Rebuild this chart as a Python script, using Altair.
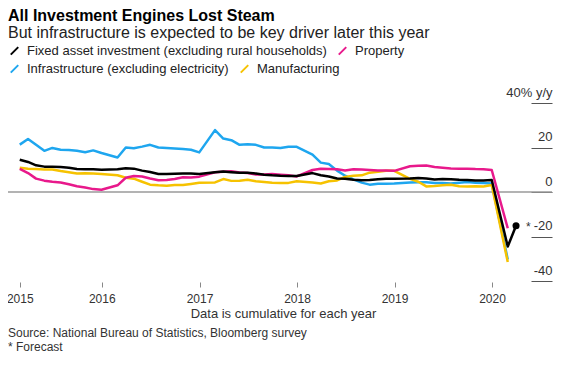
import altair as alt
import pandas as pd

FONT = "Liberation Sans"

TITLE = "All Investment Engines Lost Steam"
SUBTITLE = "But infrastructure is expected to be key driver later this year"
SOURCE = "Source: National Bureau of Statistics, Bloomberg survey"
NOTE = "* Forecast"
XTITLE = "Data is cumulative for each year"

FAI = "Fixed asset investment (excluding rural households)"
PROP = "Property"
INFRA = "Infrastructure (excluding electricity)"
MANU = "Manufacturing"

C_FAI = "#000000"
C_PROP = "#e8198b"
C_INFRA = "#1ea6ef"
C_MANU = "#f6c200"

# Year-to-date readings (Jan-Feb combined, so no January point)
months = [f"{y}-{m:02d}" for y in range(2015, 2020) for m in range(2, 13)] + ["2020-02"]

fai = [14.5, 13.5, 12.0, 11.4, 11.4, 11.2, 10.9, 10.3, 10.2, 10.2, 10.0,
       10.2, 10.7, 10.5, 9.6, 9.0, 8.1, 8.1, 8.2, 8.3, 8.3, 8.1,
       8.9, 9.2, 8.9, 8.6, 8.6, 8.3, 7.8, 7.5, 7.3, 7.2, 7.2,
       8.5, 7.5, 7.0, 6.1, 6.0, 5.5, 5.3, 5.4, 5.7, 5.9, 5.9,
       6.1, 6.3, 6.1, 5.6, 5.8, 5.7, 5.5, 5.4, 5.2, 5.2, 5.4,
       -24.5]
fc_months = ["2020-03"]
fai_forecast = [-15.2]

prop = [10.4, 8.5, 6.0, 5.1, 4.6, 4.3, 3.5, 2.6, 2.0, 1.3, 1.0,
        3.0, 6.4, 7.2, 7.0, 6.1, 5.3, 5.4, 5.8, 6.6, 6.5, 6.9,
        8.9, 9.1, 9.3, 8.8, 8.5, 7.9, 7.9, 8.1, 7.8, 7.5, 7.0,
        9.9, 10.4, 10.3, 10.2, 9.7, 10.2, 10.1, 9.9, 9.7, 9.7, 9.5,
        11.6, 11.8, 11.9, 11.2, 10.9, 10.6, 10.5, 10.5, 10.3, 10.2, 9.9,
        -16.3]

infra = [21.3, 23.8, 21.2, 18.5, 19.8, 19.0, 18.9, 18.5, 17.9, 18.7, 17.5,
         15.5, 20.0, 19.7, 20.4, 21.2, 20.0, 19.8, 19.6, 19.3, 19.0, 17.8,
         27.8, 24.0, 23.3, 21.2, 21.5, 21.2, 20.0, 20.0, 19.8, 20.3, 20.3,
         16.8, 13.2, 12.6, 9.6, 7.3, 5.7, 4.2, 3.3, 3.7, 3.7, 3.8,
         4.3, 4.4, 4.4, 4.0, 4.1, 3.8, 4.2, 4.5, 4.2, 4.0, 3.8,
         -30.3]

manu = [10.9, 10.4, 10.3, 10.1, 10.1, 9.4, 8.9, 8.3, 8.4, 8.3, 8.1,
        7.5, 6.4, 6.0, 4.6, 3.3, 3.0, 2.8, 3.1, 3.1, 3.6, 4.2,
        4.3, 5.8, 5.0, 5.1, 5.5, 4.8, 4.5, 4.2, 4.1, 4.1, 4.8,
        4.3, 3.8, 4.8, 5.2, 6.8, 7.3, 7.5, 8.7, 9.1, 9.5, 9.5,
        5.9, 4.6, 2.5, 2.7, 3.0, 3.3, 2.6, 2.5, 2.6, 2.5, 3.1,
        -31.5]

y_ticks = [-40, -20, 0, 20, 40]
year_ticks = [(2015, 2, 28), (2016, 1, 1), (2017, 1, 1), (2018, 1, 1), (2019, 1, 1), (2020, 1, 1)]


def month_end(ms):
    return (pd.to_datetime(list(ms), format="%Y-%m") + pd.offsets.MonthEnd(0)).strftime("%Y-%m-%d")


def frame(name, values, extra_m=(), extra_v=()):
    return pd.DataFrame({
        "date": month_end(list(months) + list(extra_m)),
        "value": list(values) + list(extra_v),
        "series": name,
    })


xscale = alt.Scale(type="utc",
                   domain=[alt.DateTime(year=2015, month=1, date=15, utc=True),
                           alt.DateTime(year=2020, month=5, date=26, utc=True)])
yscale = alt.Scale(domain=[-40, 40], nice=False, zero=False)

x_axis = alt.Axis(
    values=[alt.DateTime(year=y, month=m, date=d, utc=True) for (y, m, d) in year_ticks],
    format="%Y", domain=False, grid=False, offset=1,
    tickSize=5, tickColor="#888888", tickWidth=1,
    labelPadding=6, labelFontSize=12, labelFont=FONT, labelColor="#333333",
    labelFlush=False, labelOverlap=False,
    title=XTITLE, titleFont=FONT, titleFontSize=13, titleFontWeight="normal",
    titleColor="#333333", titleX=275, titleY=31, titleBaseline="middle",
    titleAlign="center", titleAnchor="start")

y_axis = alt.Axis(
    orient="right", values=y_ticks, domain=False, grid=False,
    tickSize=21, tickColor="#555555", tickWidth=1,
    labelExpr="datum.value == 40 ? '40% y/y' : '' + datum.value",
    labelAlign="right", labelPadding=0, labelBaseline="alphabetic", labelOffset=-7,
    labelFontSize=13, labelFont=FONT, labelColor="#333333", labelOverlap=False,
    labelBound=False, labelFlush=False, title=None)

X = alt.X("date:T", scale=xscale, axis=x_axis)
Y = alt.Y("value:Q", scale=yscale, axis=y_axis)


def legend(ypos):
    return alt.Legend(orient="none", legendX=0, legendY=ypos, direction="horizontal",
                      title=None, symbolType="M-1,1L1,-1", symbolSize=56,
                      symbolStrokeWidth=2, labelFont=FONT, labelFontSize=13,
                      labelColor="#222222", labelOffset=6, columnPadding=7,
                      labelLimit=0, padding=0, offset=0)


scale_a = alt.Scale(domain=[FAI, PROP], range=[C_FAI, C_PROP])
scale_b = alt.Scale(domain=[INFRA, MANU], range=[C_INFRA, C_MANU])
legend_a = legend(-59)
legend_b = legend(-41)


def line(df, scale, leg):
    return alt.Chart(df).mark_line(strokeWidth=2.5, strokeJoin="round").encode(
        x=X, y=Y, color=alt.Color("series:N", scale=scale, legend=leg))


group_b = alt.layer(
    line(frame(INFRA, infra), scale_b, legend_b),
    line(frame(MANU, manu), scale_b, legend_b),
)
group_a = alt.layer(
    line(frame(PROP, prop), scale_a, legend_a),
    line(frame(FAI, fai, fc_months, fai_forecast), scale_a, legend_a),
)

fc_df = pd.DataFrame({"date": month_end(fc_months), "value": fai_forecast})
point = alt.Chart(fc_df).mark_point(filled=True, size=50, color="#000000", opacity=1).encode(x=X, y=Y)
star = alt.Chart(fc_df).mark_text(text="*", dx=10, dy=1, align="left", baseline="middle",
                                   font=FONT, fontSize=12, color="#333333").encode(x=X, y=Y)

zero = alt.Chart(pd.DataFrame({"value": [0]})).mark_rule(color="#9a9a9a", strokeWidth=1.3).encode(
    y=Y, x=alt.value(0), x2=alt.value(544))


def text(t, ypos, size, weight="normal", color="#222222"):
    return alt.Chart(pd.DataFrame({"t": [t]})).mark_text(
        align="left", baseline="middle", font=FONT, fontSize=size, fontWeight=weight,
        color=color).encode(text="t:N", x=alt.value(0), y=alt.value(ypos))


chart = alt.layer(
    zero, group_b, group_a, point, star,
    text(TITLE, -87, 16, "bold", "#000000"),
    text(SUBTITLE, -70, 16, "normal", "#222222"),
    text(SOURCE, 230, 12, "normal", "#333333"),
    text(NOTE, 244, 12, "normal", "#333333"),
).resolve_scale(color="independent").resolve_legend(color="independent").properties(
    width=523, height=178,
    autosize=alt.AutoSizeParams(type="none"),
    padding={"left": 0, "top": 95, "right": 27, "bottom": 78},
    background="white",
).configure_view(stroke=None)

chart.save("out.html", embed_options={"renderer": "svg", "actions": False})
